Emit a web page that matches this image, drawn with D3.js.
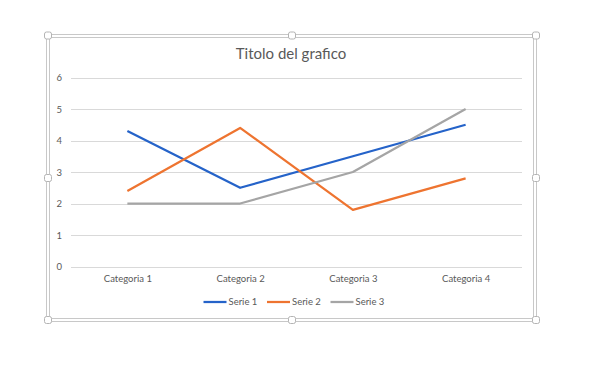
<!DOCTYPE html>
<html>
<head>
<meta charset="utf-8">
<script src="https://cdn.jsdelivr.net/npm/d3@7"></script>
<style>
  html, body { margin: 0; padding: 0; background: #fff; }
  svg { display: block; }
  text { font-family: Lato, "Liberation Sans", sans-serif; fill: #595959; }
</style>
</head>
<body>
<div id="chart"></div>
<script>
const categories = ['Categoria 1', 'Categoria 2', 'Categoria 3', 'Categoria 4'];
const serie1 = [4.3, 2.5, 3.5, 4.5];
const serie2 = [2.4, 4.4, 1.8, 2.8];
const serie3 = [2, 2, 3, 5];
const seriesNames = ['Serie 1', 'Serie 2', 'Serie 3'];
const seriesColors = ['#2563c9', '#ee7430', '#a5a5a5'];
const yTicks = [0, 1, 2, 3, 4, 5, 6];
const title = 'Titolo del grafico';

const width = 610, height = 370;
const plot = { left: 71, right: 522, top: 77.5, bottom: 266.5 };

const svg = d3.select('#chart')
  .append('svg')
    .attr('width', width)
    .attr('height', height);

// cornice di selezione (doppia linea + maniglie)
const frame = svg.append('g').attr('class', 'frame');
frame.append('rect')
  .attr('x', 46.5).attr('y', 34.5)
  .attr('width', 490).attr('height', 287)
  .attr('fill', 'none').attr('stroke', '#c8c8c8');
frame.append('rect')
  .attr('x', 49.5).attr('y', 37.5)
  .attr('width', 484).attr('height', 281)
  .attr('fill', 'none').attr('stroke', '#c8c8c8');
const hx = [48, 292, 536], hy = [35.5, 178, 320];
const handles = [];
hx.forEach(x => hy.forEach(y => {
  if (!(x === 292 && y === 178)) handles.push([x, y]);
}));
frame.selectAll('.handle')
  .data(handles)
  .enter()
  .append('rect')
    .attr('class', 'handle')
    .attr('x', d => d[0] - 3.5)
    .attr('y', d => d[1] - 3.5)
    .attr('width', 7).attr('height', 7)
    .attr('rx', 2)
    .attr('fill', '#fff')
    .attr('stroke', '#b4b4b4');

const x = d3.scalePoint()
  .domain(categories)
  .range([plot.left, plot.right])
  .padding(0.5);

const y = d3.scaleLinear()
  .domain([0, 6])
  .range([plot.bottom, plot.top]);

// griglia
svg.append('g')
  .selectAll('line')
  .data(yTicks)
  .enter()
  .append('line')
    .attr('x1', plot.left).attr('x2', plot.right)
    .attr('y1', d => Math.round(y(d)) + 0.5)
    .attr('y2', d => Math.round(y(d)) + 0.5)
    .attr('stroke', '#d9d9d9')
    .attr('stroke-width', 1);

// asse y
const yAxis = svg.append('g')
  .attr('transform', `translate(${plot.left},0)`)
  .call(d3.axisLeft(y).tickValues(yTicks).tickFormat(d3.format('d')).tickSize(0).tickPadding(9));
yAxis.select('.domain').remove();
yAxis.selectAll('text')
  .style('font-size', '9.5px')
  .style('fill', '#595959');

// asse x
const xAxis = svg.append('g')
  .attr('transform', `translate(0,${plot.bottom})`)
  .call(d3.axisBottom(x).tickSize(0).tickPadding(9));
xAxis.select('.domain').remove();
xAxis.selectAll('text')
  .style('font-size', '9.5px')
  .style('fill', '#595959');

// linee
const allSeries = [serie1, serie2, serie3];
const line = d3.line()
  .x((d, i) => x(categories[i]))
  .y(d => y(d));

svg.append('g')
  .selectAll('path')
  .data(allSeries)
  .enter()
  .append('path')
    .attr('d', d => line(d))
    .attr('fill', 'none')
    .attr('stroke', (d, i) => seriesColors[i])
    .attr('stroke-width', 2.25)
    .attr('stroke-linejoin', 'round');

// titolo
svg.append('text')
  .attr('x', 291)
  .attr('y', 59)
  .attr('text-anchor', 'middle')
  .style('font-size', '15px')
  .text(title);

// legenda
const legendX = [203.5, 267, 330.5];
const legend = svg.append('g')
  .selectAll('g')
  .data(seriesNames)
  .enter()
  .append('g')
    .attr('transform', (d, i) => `translate(${legendX[i]},302)`);
legend.append('line')
  .attr('x1', 0).attr('x2', 23)
  .attr('stroke', (d, i) => seriesColors[i])
  .attr('stroke-width', 2.25);
legend.append('text')
  .attr('x', 25)
  .attr('dy', '0.35em')
  .style('font-size', '9.5px')
  .text(d => d);
</script>
</body>
</html>
